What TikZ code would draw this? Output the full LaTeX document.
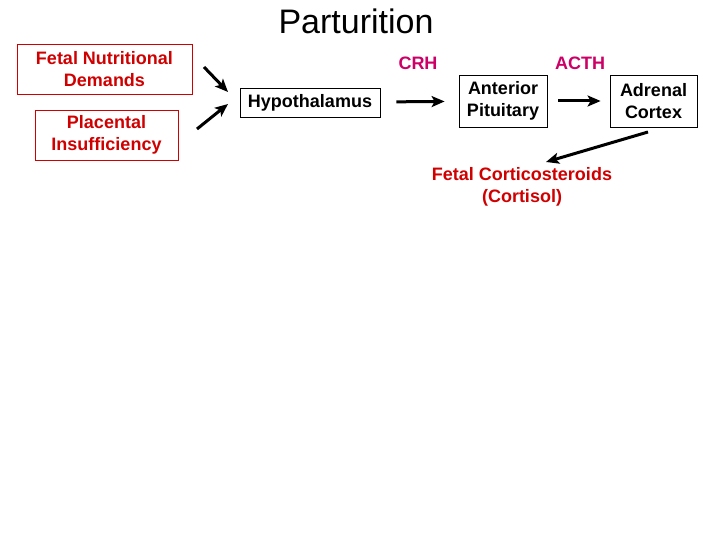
\documentclass[tikz,border=0pt]{standalone}
\usepackage{fontspec}
\setmainfont{Liberation Sans}
\usetikzlibrary{arrows.meta,positioning}
\definecolor{causered}{HTML}{D00000}
\definecolor{hormonepink}{HTML}{CC0066}
\definecolor{textdark}{HTML}{000000}
\tikzset{
  >=Latex,
  title/.style={font=\fontsize{34bp}{38bp}\selectfont,text=textdark},
  cause/.style={
    rectangle, draw=causered, line width=0.8pt, inner sep=0pt,
    align=center, font=\fontsize{18bp}{22bp}\selectfont\bfseries, text=causered
  },
  organ/.style={
    rectangle, draw=textdark, line width=0.8pt, inner sep=0pt,
    align=center, font=\fontsize{18bp}{22bp}\selectfont\bfseries, text=textdark
  },
  hormone/.style={font=\fontsize{18bp}{22bp}\selectfont\bfseries, text=hormonepink},
  result/.style={align=center, font=\fontsize{18bp}{22bp}\selectfont\bfseries, text=causered},
  arrow/.style={-{Stealth[length=13bp,width=11bp,inset=3bp]}, line width=3bp, draw=textdark}
}

\begin{document}
\begin{tikzpicture}[x=1bp,y=-1bp]
\useasboundingbox (0,0) rectangle (720,540);
\node[title] (title) at (356,21) {Parturition};
% causes
\node[cause, minimum width=175bp, minimum height=50bp] (fnd) at (104.5,69) {Fetal Nutritional\\Demands};
\node[cause, minimum width=143bp, minimum height=50bp] (pi) at (106.5,135) {Placental\\Insufficiency};
% axis
\node[organ, minimum width=140bp, minimum height=29bp] (hyp) at (310,102.5) {Hypothalamus};
\node[organ, minimum width=88bp, minimum height=52bp] (ant) at (503,101) {Anterior\\Pituitary};
\node[organ, minimum width=87bp, minimum height=52bp] (adr) at (653.5,101) {Adrenal\\Cortex};
\node[hormone] (crh) at (418,63) {CRH};
\node[hormone] (acth) at (580,63) {ACTH};
\node[result] (cort) at (522,187) {Fetal Corticosteroids\\(Cortisol)};

\coordinate (fndout) at (204,67);
\coordinate (fndin) at (228,92);
\coordinate (piout) at (197,129);
\coordinate (piin) at (228,104);
\coordinate (adrout) at (648,132);
\coordinate (cortin) at (546,162);

\draw[arrow] (fndout) -- (fndin);
\draw[arrow] (piout) -- (piin);
\draw[arrow, shorten <=16bp, shorten >=14bp] (hyp) -- (ant);
\draw[arrow, shorten <=11bp, shorten >=9bp] (ant) -- (adr);
\draw[arrow] (adrout) -- (cortin);
\end{tikzpicture}
\end{document}
